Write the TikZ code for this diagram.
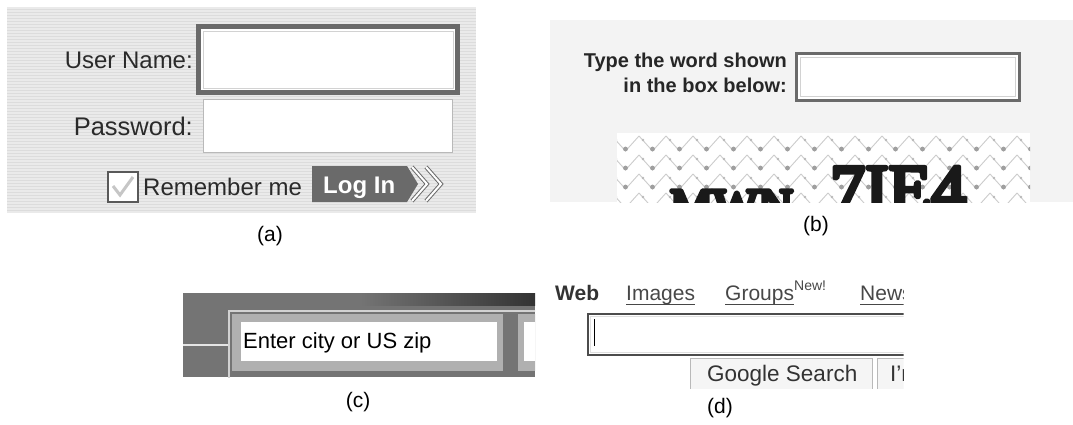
\documentclass[tikz,border=0pt]{standalone}
\usepackage{fontspec}
\setmainfont{Liberation Sans}
\newfontfamily\captchafont{Liberation Serif}
\usetikzlibrary{positioning}

\definecolor{fondA}{HTML}{DCDCDC}
\definecolor{rayure}{HTML}{EAEAEA}
\definecolor{cadre}{HTML}{6A6A6A}
\definecolor{texteA}{HTML}{2A2A2A}
\definecolor{fondB}{HTML}{F3F3F3}
\definecolor{fondC}{HTML}{747474}
\definecolor{lien}{HTML}{474747}

% texte plein + contour epais
\newcommand\epais[1]{\special{pdf:literal direct 2 Tr 4.5 w 1 j}#1\special{pdf:literal direct 0 Tr 1 w 0 j}}

\tikzset{
  etiq/.style={font=\fontsize{21}{25}\selectfont, inner sep=0pt},
  libelle/.style={font=\fontsize{24}{28}\selectfont, text=texteA, inner sep=0pt, anchor=base east},
  champ/.style={draw=gray!55, fill=white, line width=1pt},
  lienweb/.style={font=\fontsize{21}{25}\selectfont, text=lien, inner sep=0pt, anchor=base west},
  gras/.style={anchor=base west, inner sep=0pt, text=black!90},
}

\begin{document}
\begin{tikzpicture}[x=1pt,y=-1pt]
\useasboundingbox (0,0) rectangle (1073,424);

% Panneau (a) : fond raye

  \fill[fondA] (7,7) rectangle (476,213);
  \foreach \y in {8,11,...,212}
  \draw[rayure, line width=1.2pt] (7,\y) -- (476,\y);

% Champs

  \draw[cadre, line width=5pt, fill=white] (198.5,26.5) rectangle (457.5,92.5);
  \draw[gray!35, line width=1pt] (203,31) rectangle (453,88);
  \draw[champ] (203.5,99.5) rectangle (452.5,152.5);

  \node[libelle] (user) at (193,68) {User Name:};
  \node[libelle, font=\fontsize{25.5}{28}\selectfont] (pass) at (193,135) {Password:};

% Case et bouton

  \draw[gray!70!black, line width=1.5pt, fill=white] (108,172) rectangle (138,202);
  \draw[gray!45, line width=3pt] (113,186) -- (120,195) -- (133,177);
  \node[libelle, anchor=base west] (remember) at (143,195) {Remember me};

  \fill[cadre] (312,166) -- (407,166) -- (418,184) -- (407,202) -- (312,202) -- cycle;
  \node[font=\bfseries\fontsize{24}{28}\selectfont, text=white, anchor=base west, inner sep=0pt] (login) at (323,193) {Log In};
  \foreach \dx in {0,14}
  \draw[cadre, double=white, double distance=2pt, line width=1pt] ({412+\dx},167) -- ({427+\dx},184) -- ({412+\dx},201);

  \node[etiq] (a) at (270,236) {(a)};

% Panneau (b)

  \fill[fondB] (550,20) rectangle (1073,202);
  \node[libelle, font=\bfseries\fontsize{20}{25}\selectfont, text=black!85] (mot1) at (787,67) {Type the word shown};
  \node[libelle, font=\bfseries\fontsize{20}{25}\selectfont, text=black!85] (mot2) at (787,92) {in the box below:};

  \draw[cadre, line width=3pt, fill=white] (796.5,53.5) rectangle (1019.5,100.5);
  \draw[gray!35, line width=1.5pt] (800.5,57.5) rectangle (1015.5,96.5);

% Image captcha (coupee en bas)

  \begin{scope}
  \clip (617,133) rectangle (1030,202);
  \fill[white] (617,133) rectangle (1030,202);
  \foreach \r in {0,1,2,3}{
    \foreach \k in {0,...,15}{
    \draw[gray!40, line width=0.9pt] ({612+27*\k},{136+19*\r}) -- ({625.5+27*\k},{151+19*\r}) -- ({639+27*\k},{136+19*\r});
    \fill[gray!75] ({625.5+27*\k},{149+19*\r}) circle (2.4);
    \fill[gray!55] ({616+27*\k},{140+19*\r}) circle (1.4);
    }
  }
  \node[gras, font=\captchafont\fontsize{70}{74}\selectfont] (code) at (830,213) {\epais{7IE4}};
  \node[gras, font=\captchafont\fontsize{48}{52}\selectfont] (debut) at (670,222) {\epais{MWN}};
  \end{scope}

  \node[etiq] (b) at (816,226) {(b)};

% Panneau (c)

  \begin{scope}
  \clip (183,293) rectangle (535,377);
  \fill[fondC] (183,293) rectangle (535,377);
  \shade[left color=fondC, right color=black!80] (360,293) rectangle (535,305);
  \draw[gray!20, line width=1.5pt] (183,345) -- (228,345);
  \draw[gray!35, line width=2pt] (229,380) -- (229,311) -- (540,311);
  \fill[gray!62] (232,314) rectangle (503,371);
  \fill[white] (241,322) rectangle (497,361);
  \fill[gray!62] (518,314) rectangle (540,371);
  \fill[white] (524,322) rectangle (540,361);
  \node[font=\fontsize{22}{26}\selectfont, anchor=base west, inner sep=0pt] (ville) at (243,348) {Enter city or US zip};
  \end{scope}

  \node[etiq] (c) at (358,402) {(c)};

% Panneau (d)

  \node[lienweb, font=\bfseries\fontsize{21}{25}\selectfont, text=black!80] (web) at (555,300) {Web};
  \node[lienweb] (img) at (626,300) {Images};
  \node[lienweb] (grp) at (725,300) {Groups};
  \node[lienweb, font=\fontsize{14}{16}\selectfont] (new) at (794,290) {New!};
  \foreach \n in {img,grp}
  \draw[lien, line width=1pt] ([yshift=-4pt]\n.base west) -- ([yshift=-4pt]\n.base east);

  \begin{scope}
  \clip (545,280) rectangle (903.5,388);
  \node[lienweb] (news) at (860,300) {News};
  \draw[lien, line width=1pt] ([yshift=-4pt]news.base west) -- ([yshift=-4pt]news.base east);
  \draw[gray!60!black, line width=2pt, fill=white] (588,314) rectangle (920,355);
  \draw[gray!25, line width=1pt] (590.5,316.5) rectangle (918,352.5);
  \draw[black, line width=1pt] (594,319) -- (594,346);
  \draw[gray!55, fill=gray!8] (690.5,358.5) rectangle (872,400);
  \draw[gray!55, fill=gray!8] (877,358.5) rectangle (930,400);
  \node[font=\fontsize{22.5}{26}\selectfont, text=black!80, anchor=base west, inner sep=0pt] (google) at (707,381) {Google Search};
  \node[font=\fontsize{22.5}{26}\selectfont, text=black!80, anchor=base west, inner sep=0pt] (lucky) at (890,381) {I'm};
  \end{scope}

  \node[etiq] (d) at (720,408) {(d)};

\end{tikzpicture}
\end{document}
